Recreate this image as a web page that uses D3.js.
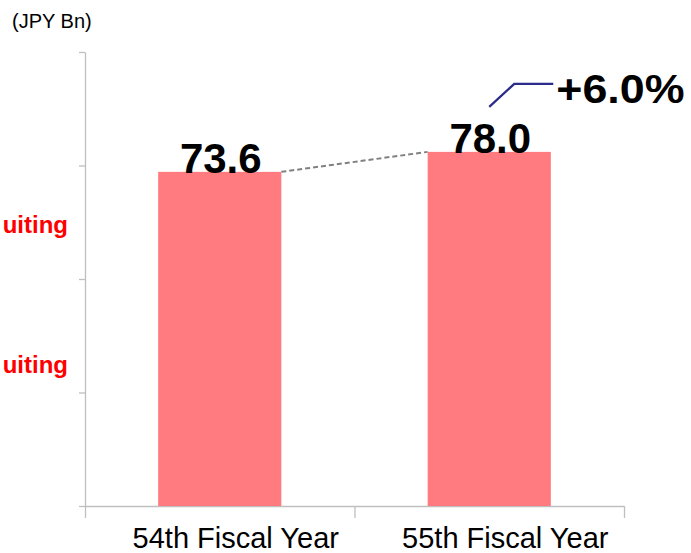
<!DOCTYPE html>
<html>
<head>
<meta charset="utf-8">
<script src="https://cdn.jsdelivr.net/npm/d3@7"></script>
<style>
  html, body { margin: 0; padding: 0; background: #fff; }
  svg { display: block; font-family: "Liberation Sans", Arial, sans-serif; }
</style>
</head>
<body>
<svg id="chart" width="691" height="553"></svg>
<script>
// ---- data ----
const categories = ["54th Fiscal Year", "55th Fiscal Year"];
const values = [73.6, 78.0];
const valueLabels = ["73.6", "78.0"];
const growthLabel = "+6.0%";
const unitLabel = "(JPY Bn)";
const sideLabels = ["uiting", "uiting"];
const yTicks = [0, 25, 50, 75, 100];

// ---- layout ----
const svg = d3.select("#chart");
const plotLeft = 85, plotRight = 624, plotTop = 52, plotBottom = 506;

const x = d3.scaleBand().domain(categories).range([plotLeft, plotRight]).padding(0);
const y = d3.scaleLinear().domain([0, 100]).range([plotBottom, plotTop]);
const barW = x.bandwidth() * 0.457;
const cx = d => x(d) + x.bandwidth() / 2;

const axisColor = "#BFBFBF";

// y axis
const yAxis = svg.append("g")
  .attr("transform", `translate(${plotLeft},0)`)
  .call(d3.axisLeft(y).tickValues(yTicks).tickSize(6).tickSizeOuter(0).tickFormat(""));
yAxis.selectAll("path, line").attr("stroke", axisColor).attr("stroke-width", 1.3);

// x axis (ticks at category boundaries)
const xb = d3.scaleLinear().domain([0, categories.length]).range([plotLeft, plotRight]);
const xAxis = svg.append("g")
  .attr("transform", `translate(0,${plotBottom})`)
  .call(d3.axisBottom(xb).tickValues(d3.range(categories.length + 1)).tickSizeInner(12).tickSizeOuter(0).tickFormat(""));
xAxis.selectAll("path, line").attr("stroke", axisColor).attr("stroke-width", 1.3);

// bars
svg.selectAll("rect.bar").data(categories).join("rect")
  .attr("class", "bar")
  .attr("x", d => cx(d) - barW / 2)
  .attr("width", barW)
  .attr("y", (d, i) => y(values[i]))
  .attr("height", (d, i) => y(0) - y(values[i]))
  .attr("fill", "#FF7B80");

// dashed connector between bar tops
svg.append("line")
  .attr("x1", cx(categories[0]) + barW / 2).attr("y1", y(values[0]))
  .attr("x2", cx(categories[1]) - barW / 2).attr("y2", y(values[1]))
  .attr("stroke", "#808080").attr("stroke-width", 2)
  .attr("stroke-dasharray", "5,3");

// value labels
svg.selectAll("text.val").data(categories).join("text")
  .attr("class", "val")
  .attr("x", d => cx(d) + 1)
  .attr("y", (d, i) => y(values[i]) + 1)
  .attr("text-anchor", "middle")
  .attr("font-size", 42).attr("font-weight", "bold")
  .attr("fill", "#000")
  .text((d, i) => valueLabels[i]);

// category labels
svg.selectAll("text.cat").data(categories).join("text")
  .attr("class", "cat")
  .attr("x", d => cx(d) + 16)
  .attr("y", 548)
  .attr("text-anchor", "middle")
  .attr("font-size", 29)
  .attr("fill", "#000")
  .text(d => d);

// growth annotation
const c2 = cx(categories[1]), t2 = y(values[1]);
svg.append("polyline")
  .attr("points", [[c2, t2 - 45], [c2 + 25, t2 - 68], [c2 + 64, t2 - 68]].map(p => p.join(",")).join(" "))
  .attr("fill", "none").attr("stroke", "#2B2B8C").attr("stroke-width", 2.3);
svg.append("text")
  .attr("transform", `translate(${c2 + 67},${t2 - 49}) scale(1.12,1)`)
  .attr("font-size", 40).attr("font-weight", "bold")
  .attr("fill", "#000")
  .text(growthLabel);

// unit label
svg.append("text")
  .attr("x", 12).attr("y", 28)
  .attr("font-size", 20)
  .attr("fill", "#000")
  .text(unitLabel);

// cut-off red side labels
svg.selectAll("text.side").data(sideLabels).join("text")
  .attr("class", "side")
  .attr("x", 68)
  .attr("y", (d, i) => [233, 373][i])
  .attr("text-anchor", "end")
  .attr("font-size", 24).attr("font-weight", "bold")
  .attr("fill", "#FF0000")
  .text(d => d);
</script>
</body>
</html>
